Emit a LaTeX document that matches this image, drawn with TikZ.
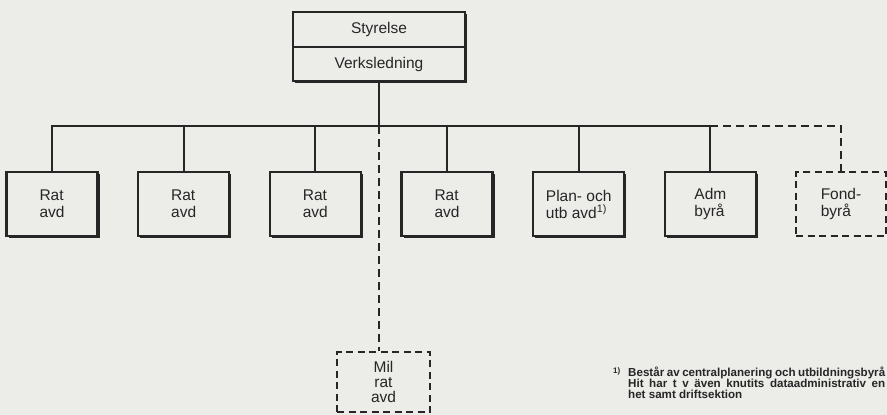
\documentclass[tikz,border=0pt]{standalone}
\usepackage{fontspec}
\setmainfont{Liberation Sans}
\usetikzlibrary{shadows}

\definecolor{paper}{RGB}{236,236,233}
\definecolor{ink}{RGB}{38,38,38}

\begin{document}
\begin{tikzpicture}[
            x = 1pt, y = -1pt,
            every node/.style={inner sep=0pt, text=ink, font=\fontsize{15.5}{17}\selectfont},
            box/.style={draw=ink, line width=2.2pt, fill=paper, minimum width=91pt, minimum height=64pt, align=left,
                drop shadow={shadow xshift=2pt, shadow yshift=-1.8pt, fill=ink, opacity=1}},
            dashbox/.style={draw=ink, line width=2.6pt, fill=paper, dash pattern=on 7pt off 4.5pt,
                minimum width=90pt, minimum height=64pt, align=left},
            line/.style={draw=ink, line width=2pt},
            dashline/.style={line, dash pattern=on 8pt off 5pt},
            ]
        \fill[paper] (0,0) rectangle (887,415);
        \useasboundingbox (0,0) rectangle (887,415);

        % top
        \node[box, minimum width=172pt, minimum height=35pt] (styrelse) at (379,29.5) {Styrelse};
        \node[box, minimum width=172pt, minimum height=34pt] (ledning) at (379,64) {Verksledning};

        % departments
        \foreach \i/\txt in {0/{Rat\\avd}, 1/{Rat\\avd}, 2/{Rat\\avd}, 3/{Rat\\avd},
                4/{Plan- och\\utb avd\textsuperscript{1)}}, 5/{Adm\\byrå}}
            \node[box] (avd\i) at (52 + 131.67*\i, 204) {\txt};
        \node[dashbox] (fond) at (841,204) {Fond-\\byrå};
        \node[dashbox, minimum width=93pt, minimum height=60pt, align=center,
            font=\fontsize{15.5}{15}\selectfont] (mil) at (383.5,382) {Mil\\rat\\avd};

        \coordinate (hub) at (379,126);
        \draw[line] (ledning) -- (hub);
        \draw[line] (avd0.north) -- (avd0.north |- hub) -- (avd5.north |- hub) -- (avd5.north);
        \foreach \i in {1, ..., 4}
            \draw[line] (avd\i.north) -- (avd\i.north |- hub);
        \draw[dashline] (avd5.north |- hub) -- (fond.north |- hub) -- (fond.north);
        \draw[dashline] (hub) -- (hub |- mil.north);

        % footnote
        \node[anchor=north west, font=\bfseries\fontsize{8}{8}\selectfont] (fnmark) at (613,368) {1)};
        \node[anchor=north west, align=left,
            font=\bfseries\fontsize{11.6}{11}\selectfont] (fntext) at (628,367)
            {\hbox to 257pt{Består av centralplanering och utbildningsbyrå}\\
             \hbox to 257pt{Hit har t v även knutits dataadministrativ en}\\
             het samt driftsektion};
    \end{tikzpicture}
\end{document}
